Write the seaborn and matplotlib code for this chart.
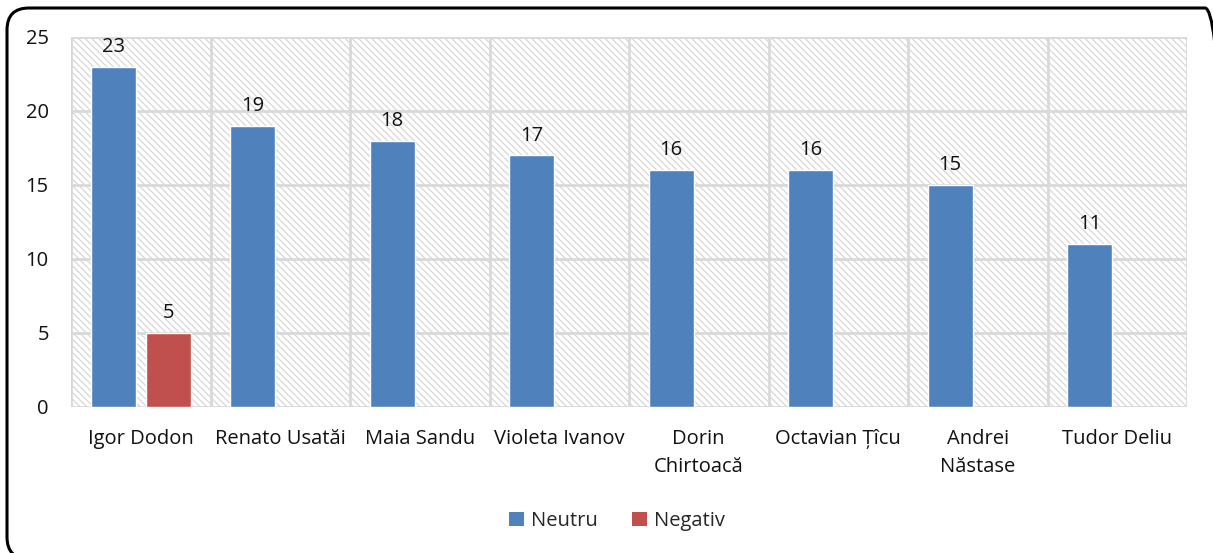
import numpy as np
import pandas as pd
import matplotlib
matplotlib.use("Agg")
import matplotlib.pyplot as plt
from matplotlib.patches import Rectangle, FancyBboxPatch
from matplotlib.patches import Patch
import seaborn as sns

candidates = ["Igor Dodon", "Renato Usatăi", "Maia Sandu", "Violeta Ivanov",
              "Dorin\nChirtoacă", "Octavian Țîcu", "Andrei\nNăstase", "Tudor Deliu"]
neutru = [23, 19, 18, 17, 16, 16, 15, 11]
negativ_candidates = ["Igor Dodon"]
negativ = [5]
series = ["Neutru", "Negativ"]
colors = ["#4F81BD", "#C0504D"]
y_ticks = [0, 5, 10, 15, 20, 25]

rows = [(c, "Neutru", v) for c, v in zip(candidates, neutru)]
rows += [(c, "Negativ", v) for c, v in zip(negativ_candidates, negativ)]
df = pd.DataFrame(rows, columns=["candidat", "ton", "valoare"])

sns.set_theme(style="white")
plt.rcParams["font.family"] = ["Open Sans", "DejaVu Sans"]
plt.rcParams["hatch.color"] = "#d8d8d8"
plt.rcParams["hatch.linewidth"] = 0.9

W, H = 1213, 553
fig = plt.figure(figsize=(W / 100, H / 100), dpi=100)
ax = fig.add_axes([71 / W, 1 - 407 / H, (1187 - 71) / W, (407 - 37) / H])

sns.barplot(data=df, x="candidat", y="valoare", hue="ton", order=candidates,
            hue_order=series, palette=colors, width=0.79, gap=0.19,
            saturation=1, ax=ax, legend=False, zorder=3)

# hatched plot-area background
ax.add_patch(Rectangle((0, 0), 1, 1, transform=ax.transAxes, facecolor="white",
                       edgecolor="#d8d8d8", hatch="\\" * 5, linewidth=0, zorder=0))

fs = 14.5
ax.set_xlim(-0.5, len(candidates) - 0.5)
ax.set_ylim(0, 25)
ax.set_yticks(y_ticks)
ax.set_xticks(np.arange(len(candidates)))
ax.set_xticklabels(candidates, fontsize=fs, color="#111111", linespacing=1.5)
ax.tick_params(axis="y", labelsize=fs, labelcolor="#111111", length=0, pad=16)
ax.tick_params(axis="x", length=0, pad=16)
ax.set_xlabel("")
ax.set_ylabel("")

# gridlines: horizontal at ticks, vertical at category boundaries
for y in y_ticks:
    ax.axhline(y, color="#d9d9d9", lw=2, zorder=1)
for x in np.arange(-0.5, len(candidates) + 0.5, 1):
    ax.axvline(x, color="#d9d9d9", lw=2, zorder=1)
for s in ax.spines.values():
    s.set_visible(False)

for cont in ax.containers:
    ax.bar_label(cont, fontsize=fs, color="#111111", padding=7)

handles = [Patch(facecolor=c, edgecolor="none") for c in colors]
fig.legend(handles, series, loc="center", bbox_to_anchor=(617 / W, 1 - 521 / H),
           ncol=2, frameon=False, fontsize=fs, handlelength=0.75, handleheight=0.75,
           handletextpad=0.35, columnspacing=1.7)

# rounded chart border (pixel units), running past the right and bottom edges
fig.patches.append(FancyBboxPatch((7, -6), 1220, H - 8 + 6,
                                  boxstyle="round,pad=0,rounding_size=22",
                                  transform=None, facecolor="none",
                                  edgecolor="black", linewidth=2.2))

fig.savefig("out.png", dpi=100)
